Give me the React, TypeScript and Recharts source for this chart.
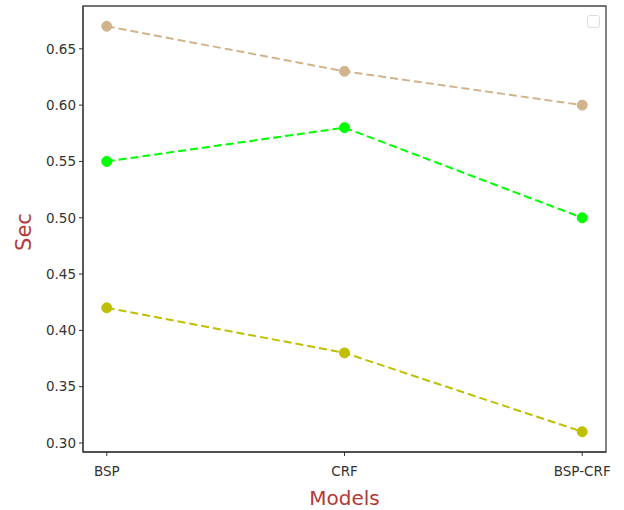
import React from "react";
import { LineChart, Line, XAxis, YAxis, ReferenceArea, Legend } from "recharts";

const categories = ["BSP", "CRF", "BSP-CRF"];
const tanSeries = [0.67, 0.63, 0.6];
const greenSeries = [0.55, 0.58, 0.5];
const yellowSeries = [0.42, 0.38, 0.31];
const yTicks = [0.3, 0.35, 0.4, 0.45, 0.5, 0.55, 0.6, 0.65];

const data = categories.map((c, i) => ({
  idx: i,
  name: c,
  tan: tanSeries[i],
  green: greenSeries[i],
  yellow: yellowSeries[i],
}));

const FONT = "DejaVu Sans, sans-serif";
const LABEL_COLOR = "#B23A3A";
const X_DOMAIN: [number, number] = [-0.1, 2.1];
const Y_DOMAIN: [number, number] = [0.292, 0.688];

const XLabel = (props: any) => {
  const vb = props.viewBox || {};
  const cx = vb.x + vb.width / 2;
  return (
    <text x={cx} y={505} textAnchor="middle" fill={LABEL_COLOR} fontSize={20} fontFamily={FONT}>
      Models
    </text>
  );
};

const YLabel = (props: any) => {
  const vb = props.viewBox || {};
  const cy = vb.y + vb.height / 2 + 3;
  const cx = 31;
  return (
    <text
      x={cx}
      y={cy}
      transform={`rotate(-90 ${cx} ${cy})`}
      textAnchor="middle"
      fill={LABEL_COLOR}
      fontSize={21}
      fontFamily={FONT}
    >
      Sec
    </text>
  );
};

const dotStyle = (c: string) => ({ r: 5, fill: c, stroke: c, strokeWidth: 1, strokeDasharray: "none" });

export default function App() {
  return (
    <div style={{ position: "absolute", left: 0, top: 0, width: 624, height: 510, background: "#fff" }}>
      <LineChart
        width={624}
        height={510}
        data={data}
        margin={{ top: 6, right: 18, bottom: 28, left: 23 }}
      >
        <XAxis
          dataKey="idx"
          type="number"
          domain={X_DOMAIN}
          ticks={[0, 1, 2]}
          tickFormatter={(v: number) => categories[v]}
          height={30}
          tickSize={4}
          tickMargin={10}
          tickLine={{ stroke: "#333" }}
          axisLine={{ stroke: "#444", strokeWidth: 1.3 }}
          tick={{ fill: "#333", fontSize: 13.5, fontFamily: FONT }}
          allowDataOverflow
          label={<XLabel />}
        />
        <YAxis
          type="number"
          domain={Y_DOMAIN}
          ticks={yTicks}
          tickFormatter={(v: number) => v.toFixed(2)}
          width={60}
          tickSize={4}
          tickMargin={3}
          tickLine={{ stroke: "#333" }}
          axisLine={{ stroke: "#444", strokeWidth: 1.3 }}
          tick={{ fill: "#333", fontSize: 13.5, fontFamily: FONT }}
          allowDataOverflow
          label={<YLabel />}
        />
        <ReferenceArea
          x1={X_DOMAIN[0]}
          x2={X_DOMAIN[1]}
          y1={Y_DOMAIN[0]}
          y2={Y_DOMAIN[1]}
          fill="none"
          stroke="#444"
          strokeWidth={1.3}
          ifOverflow="visible"
        />
        <Legend
          verticalAlign="top"
          align="right"
          content={() => (
            <div
              style={{
                position: "absolute",
                left: 587,
                top: 15,
                width: 11,
                height: 11,
                border: "1px solid #ddd",
                borderRadius: 3,
                background: "#fff",
              }}
            />
          )}
          wrapperStyle={{ top: 0, left: 0, width: 0, height: 0 }}
        />
        <Line
          dataKey="tan"
          stroke="#D2B48C"
          strokeWidth={2}
          strokeDasharray="8 4"
          dot={dotStyle("#D2B48C")}
          isAnimationActive={false}
        />
        <Line
          dataKey="green"
          stroke="#00FF00"
          strokeWidth={2}
          strokeDasharray="8 4"
          dot={dotStyle("#00FF00")}
          isAnimationActive={false}
        />
        <Line
          dataKey="yellow"
          stroke="#BFBF00"
          strokeWidth={2}
          strokeDasharray="8 4"
          dot={dotStyle("#BFBF00")}
          isAnimationActive={false}
        />
      </LineChart>
    </div>
  );
}
